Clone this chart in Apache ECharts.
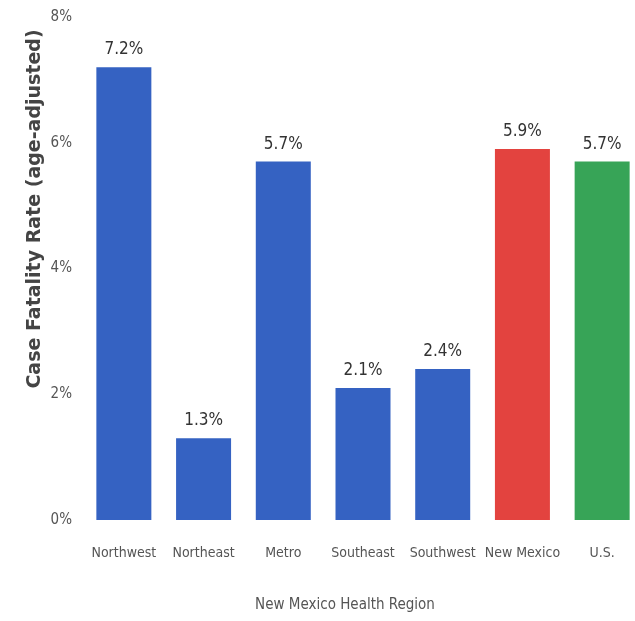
<!DOCTYPE html>
<html>
<head>
<meta charset="utf-8">
<script src="https://cdn.jsdelivr.net/npm/echarts@6/dist/echarts.min.js"></script>
<style>
  html, body { margin: 0; padding: 0; background: #fff; }
  #chart { width: 635px; height: 621px; }
</style>
</head>
<body>
<div id="chart"></div>
<script>
// Age-adjusted case fatality rate by New Mexico health region
const regions = ['Northwest', 'Northeast', 'Metro', 'Southeast', 'Southwest', 'New Mexico', 'U.S.'];
const rates = [7.2, 1.3, 5.7, 2.1, 2.4, 5.9, 5.7];
const barColors = ['#3562c2', '#3562c2', '#3562c2', '#3562c2', '#3562c2', '#e3433f', '#37a457'];
const yTicks = [0, 2, 4, 6, 8];

const narrow = '"Liberation Sans Narrow", "DejaVu Sans Condensed", sans-serif';

const chart = echarts.init(document.getElementById('chart'));
chart.setOption({
  backgroundColor: '#ffffff',
  animation: false,
  grid: {
    left: 84, top: 17, right: -7, bottom: 101,
    containLabel: false,
    outerBoundsMode: 'none'
  },
  xAxis: {
    type: 'category',
    data: regions,
    axisLine: { show: false },
    axisTick: { show: false },
    axisLabel: { color: '#555', fontFamily: narrow, fontSize: 14, margin: 26, interval: 0 }
  },
  yAxis: {
    type: 'value',
    min: yTicks[0],
    max: yTicks[yTicks.length - 1],
    interval: 2,
    splitLine: { show: false },
    axisLine: { show: false },
    axisTick: { show: false },
    axisLabel: {
      color: '#555', fontFamily: narrow, fontSize: 15, margin: 12,
      formatter: v => v + '%'
    }
  },
  series: [{
    type: 'bar',
    barWidth: 55,
    data: rates.map((v, i) => ({ value: v, itemStyle: { color: barColors[i] } })),
    label: {
      show: true,
      position: 'top',
      distance: 9,
      color: '#333',
      fontFamily: narrow,
      fontSize: 17,
      formatter: p => p.value.toFixed(1) + '%'
    }
  }],
  graphic: [
    {
      type: 'text',
      x: 35, y: 209,
      rotation: Math.PI / 2,
      style: {
        text: 'Case Fatality Rate (age-adjusted)',
        fill: '#444',
        font: 'bold 19px "DejaVu Sans", sans-serif',
        align: 'center',
        verticalAlign: 'middle'
      }
    },
    {
      type: 'text',
      x: 345, y: 605,
      style: {
        text: 'New Mexico Health Region',
        fill: '#555',
        font: '15px ' + narrow,
        align: 'center',
        verticalAlign: 'middle'
      }
    }
  ]
});
</script>
</body>
</html>
